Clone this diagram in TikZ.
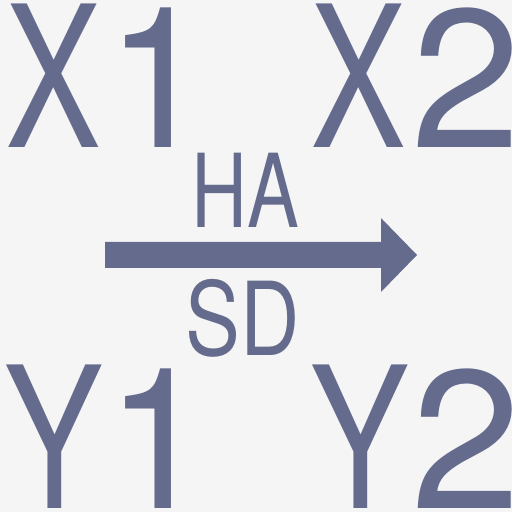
\documentclass[tikz,border=0pt]{standalone}
\usepackage{fontspec}
\newfontfamily\glyphfont{TeX Gyre Heros}
\definecolor{ink}{HTML}{646B8C}
\definecolor{bg}{HTML}{F5F5F5}
\begin{document}
\begin{tikzpicture}[x=1pt,y=1pt,
  big/.style={inner sep=0pt, anchor=base, text=ink, font=\glyphfont\fontsize{197}{197}\selectfont},
  mid/.style={inner sep=0pt, anchor=base, text=ink, font=\glyphfont\fontsize{102}{102}\selectfont, xscale=0.76}]
\fill[bg] (0,0) rectangle (512,512);
\useasboundingbox (0,0) rectangle (512,512);
% top row
\node[big, xscale=0.73] (x1x) at (53.5,364) {X};
\node[big, xscale=0.95] (x1n) at (159,364) {1};
\node[big, xscale=0.73] (x2x) at (358.5,364) {X};
\node[big, xscale=1.0] (x2n) at (466,364) {2};
% bottom row
\node[big, xscale=0.75] (y1y) at (53.5,4) {Y};
\node[big, xscale=0.95] (y1n) at (159,4) {1};
\node[big, xscale=0.75] (y2y) at (359.5,4) {Y};
\node[big, xscale=1.0] (y2n) at (466.5,4) {2};
% labels
\node[mid] (ha) at (245,284) {HA};
\node[mid, xscale=1.06] (sd) at (243,156) {SD};
% arrow
\fill[ink] (105,270) -- (381,270) -- (381,294) -- (417,257) -- (381,220) -- (381,244) -- (105,244) -- cycle;
\end{tikzpicture}
\end{document}
